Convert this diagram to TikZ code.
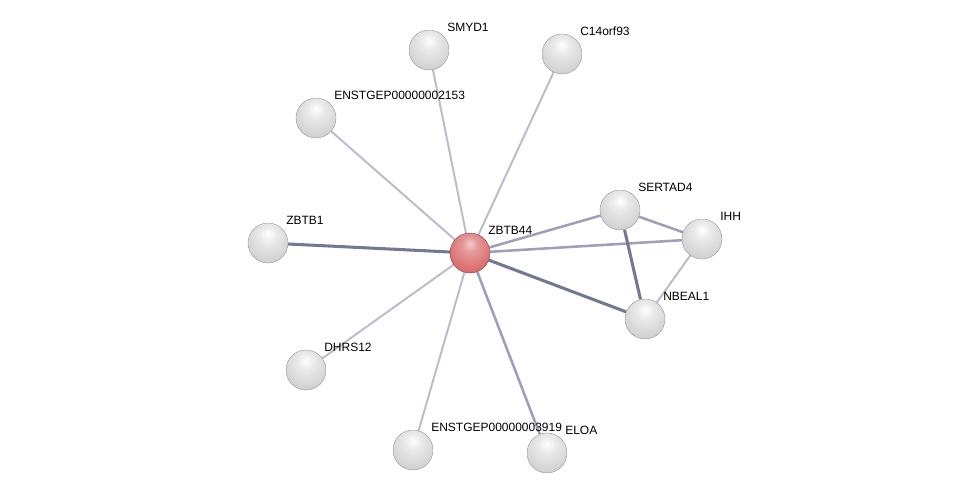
\documentclass[tikz,border=0pt]{standalone}
\usepackage{fontspec}
\setmainfont{Liberation Sans}
\usetikzlibrary{backgrounds}
\definecolor{edgelight}{HTML}{BCBCCE}
\definecolor{edgemid}{HTML}{9DA0B6}
\definecolor{edgedark}{HTML}{737991}
\definecolor{ballred}{HTML}{D96A6A}
\pgfdeclareradialshading{greyball}{\pgfpoint{0bp}{12bp}}{color(0bp)=(white); color(10bp)=(white!92!black);
  color(30bp)=(white!82!black); color(45bp)=(white!70!black); color(56bp)=(white!45!black); color(70bp)=(white!45!black)}
\pgfdeclareradialshading{redball}{\pgfpoint{0bp}{12bp}}{color(0bp)=(ballred!35!white); color(10bp)=(ballred!70!white);
  color(30bp)=(ballred); color(45bp)=(ballred!90!black); color(56bp)=(ballred!55!black); color(70bp)=(ballred!55!black)}
\tikzset{
  prot/.style={circle, minimum size=30pt, inner sep=0pt, shading=greyball, draw=white!60!black, line width=0.3pt},
  seed/.style={prot, shading=redball, draw=ballred!60!black},
  plabel/.style={anchor=base west, inner sep=0pt, font=\fontsize{9pt}{10pt}\selectfont},
  weak/.style={edgelight, line width=1.5pt},
  medium/.style={edgemid, line width=1.9pt},
  strong/.style={edgedark, line width=2.3pt}
}
\begin{document}
\begin{tikzpicture}[x=0.75pt, y=-0.75pt]
\useasboundingbox (0,0) rectangle (975,498);
% proteins (pixel positions)
\node[seed] (zbtb44) at (470,253) {};
\node[plabel] at (488,235) {ZBTB44};
\foreach \n/\x/\y/\t in {smyd1/429/50/SMYD1, c14/562/54/C14orf93,
  enst2153/316/118/ENSTGEP00000002153, zbtb1/268/243/ZBTB1,
  dhrs12/306/370/DHRS12, enst3919/413/450/ENSTGEP00000003919,
  eloa/547/453/ELOA, sertad4/620/210/SERTAD4, ihh/702/239/IHH,
  nbeal1/645/319/NBEAL1} {
  \node[prot] (\n) at (\x,\y) {};
  \node[plabel] (\n-t) at (\x+18,\y-18) {\t};
}
% interactions
\begin{pgfonlayer}{background}
\foreach \a/\b in {zbtb44/smyd1, zbtb44/c14, zbtb44/enst2153, zbtb44/dhrs12,
  zbtb44/enst3919, ihh/nbeal1}
  \draw[weak] (\a) -- (\b);
\foreach \a/\b in {zbtb44/eloa, zbtb44/sertad4, zbtb44/ihh, sertad4/ihh}
  \draw[medium] (\a) -- (\b);
\foreach \a/\b in {zbtb44/zbtb1, zbtb44/nbeal1, sertad4/nbeal1}
  \draw[strong] (\a) -- (\b);
\end{pgfonlayer}
\end{tikzpicture}
\end{document}
